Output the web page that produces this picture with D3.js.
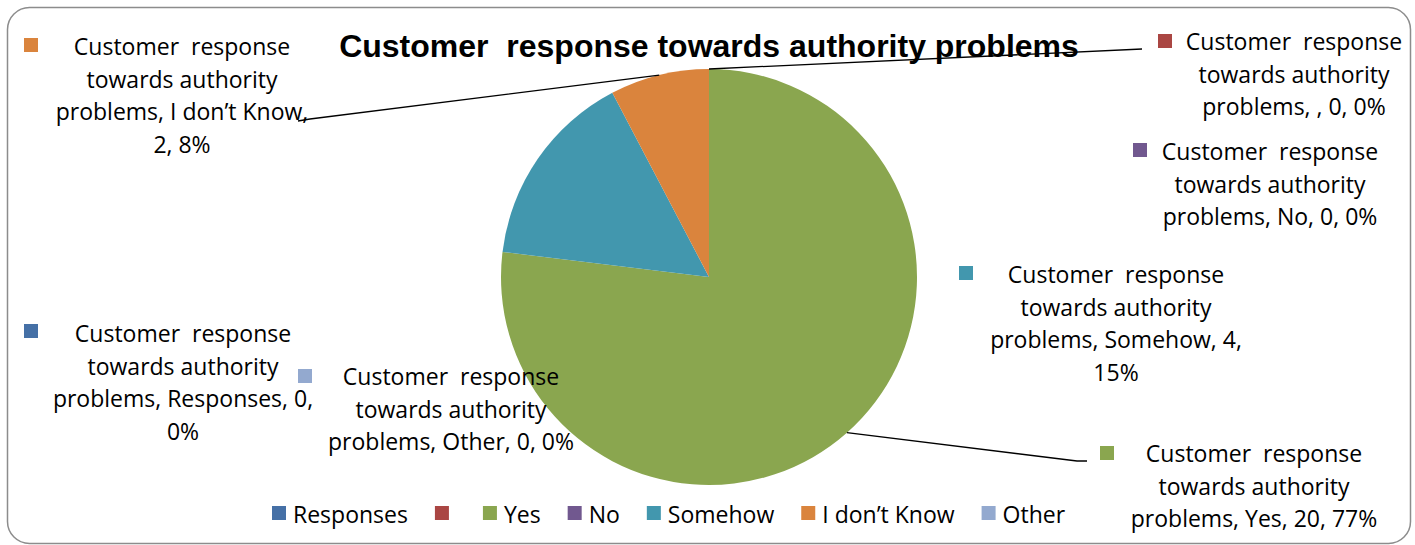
<!DOCTYPE html>
<html>
<head>
<meta charset="utf-8">
<script src="https://cdn.jsdelivr.net/npm/d3@7"></script>
<style>
  body { margin: 0; background: #fff; }
  text { white-space: pre; }
</style>
</head>
<body>
<svg id="chart" width="1415" height="545"></svg>
<script>
// data
var seriesName = "Customer  response towards authority problems";
var categories = ["Responses", "", "Yes", "No", "Somehow", "I don\u2019t Know", "Other"];
var values = [0, 0, 20, 0, 4, 2, 0];
var percents = ["0%", "0%", "77%", "0%", "15%", "8%", "0%"];
var colors = ["#4570A6", "#AA4643", "#8AA64F", "#71588F", "#4297AE", "#DA843D", "#93A9CF"];

// where Excel put each data label (centre x of text, first baseline, square, leader end)
var labelLayout = [
  { cx: 183, y: 342, sq: [24, 324], split: 1 },
  { cx: 1294, y: 50, sq: [1158, 34], split: 0, leader: [[1142, 49]] },
  { cx: 1254, y: 462, sq: [1100, 446], split: 0, leader: [[1077, 461], [1087, 461]] },
  { cx: 1270, y: 160, sq: [1133, 143], split: 0 },
  { cx: 1116, y: 283, sq: [959, 266], split: 1 },
  { cx: 182, y: 55, sq: [24, 38], split: 2, leader: [[310, 119], [298, 121]] },
  { cx: 451, y: 385, sq: [298, 369], split: 0 }
];

var cx = 709, cy = 277, radius = 208;
var labelFont = "'Open Sans', sans-serif";
var lineH = 32.5;

var svg = d3.select("#chart");

// chart border
svg.append("rect")
  .attr("x", 7.5).attr("y", 7.5)
  .attr("width", 1403).attr("height", 536)
  .attr("rx", 22).attr("ry", 22)
  .style("fill", "#fff")
  .style("stroke", "#8c8c8c")
  .style("stroke-width", 1.5);

var pie = d3.pie().sort(null).value(function (d) { return d; });
var arcs = pie(values);
var arc = d3.arc().innerRadius(0).outerRadius(radius);

var g = svg.append("g").attr("transform", "translate(" + cx + "," + cy + ")");
g.selectAll("path")
  .data(arcs)
  .enter().append("path")
  .attr("d", arc)
  .style("fill", function (d, i) { return colors[i]; });

// leader lines start at the middle of each slice's outer edge
arcs.forEach(function (a, i) {
  var lay = labelLayout[i];
  if (!lay.leader) return;
  var mid = (a.startAngle + a.endAngle) / 2;
  var pts = [[cx + radius * Math.sin(mid), cy - radius * Math.cos(mid)]].concat(lay.leader);
  svg.append("path")
    .attr("d", d3.line()(pts))
    .style("fill", "none")
    .style("stroke", "#000")
    .style("stroke-width", 1.3);
});

// data labels
categories.forEach(function (c, i) {
  var lay = labelLayout[i];
  var tail = c === "" ? ["problems,", ",", values[i] + ",", percents[i]]
                      : ["problems,", c + ",", values[i] + ",", percents[i]];
  var lines = ["Customer  response", "towards authority"];
  if (lay.split > 0) {
    lines.push(tail.slice(0, tail.length - lay.split).join(" "));
    lines.push(tail.slice(tail.length - lay.split).join(" "));
  } else {
    lines.push(tail.join(" "));
  }
  svg.append("rect")
    .attr("x", lay.sq[0]).attr("y", lay.sq[1])
    .attr("width", 14).attr("height", 14)
    .style("fill", colors[i]);
  var t = svg.append("text")
    .attr("text-anchor", "middle")
    .style("font-family", labelFont)
    .style("font-size", "23px")
    .style("fill", "#000");
  lines.forEach(function (l, k) {
    t.append("tspan").attr("x", lay.cx).attr("y", lay.y + k * lineH).text(l);
  });
});

// title
svg.append("text")
  .attr("x", 709).attr("y", 57)
  .attr("text-anchor", "middle")
  .style("font-family", "'Liberation Sans', Arial, sans-serif")
  .style("font-weight", "bold")
  .style("font-size", "32px")
  .text(seriesName);

// legend along the bottom
var legend = svg.append("g");
var lx = 272, ly = 523;
categories.forEach(function (c, i) {
  legend.append("rect")
    .attr("x", lx).attr("y", ly - 17)
    .attr("width", 14).attr("height", 14)
    .style("fill", colors[i]);
  var t = legend.append("text")
    .attr("x", lx + 21).attr("y", ly)
    .style("font-family", labelFont)
    .style("font-size", "23px")
    .text(c);
  var w = c ? t.node().getComputedTextLength() : 0;
  lx += 21 + w + 27;
});
</script>
</body>
</html>
